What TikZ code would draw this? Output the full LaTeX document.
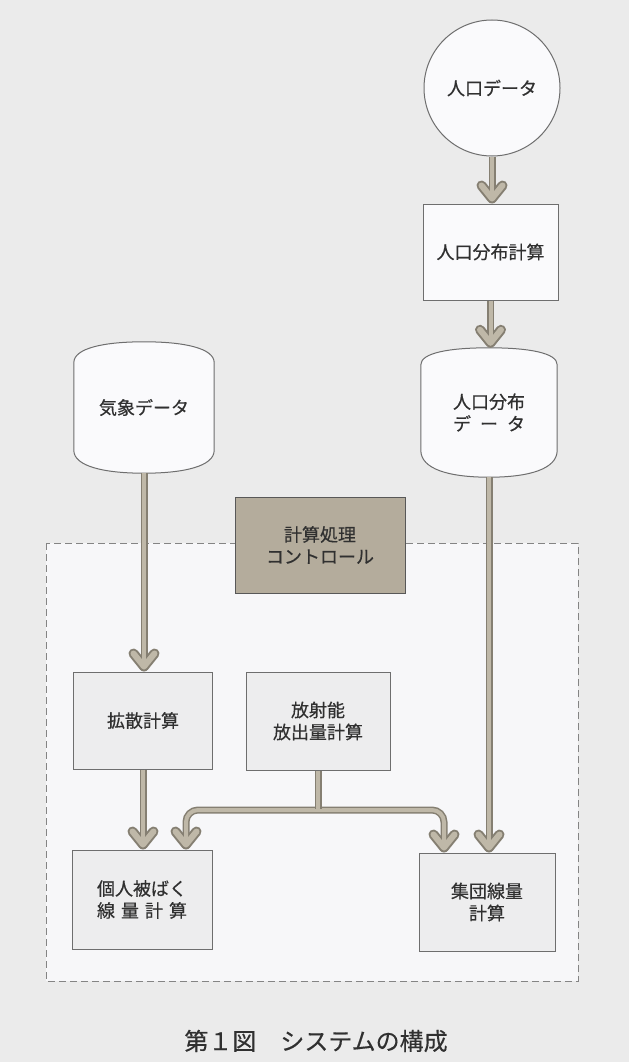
\documentclass[tikz,border=0pt]{standalone}
\usepackage{fontspec}
\setmainfont[FakeBold=0.5]{Noto Sans CJK JP}
\newfontfamily\capfont[FakeBold=0.3]{Noto Sans CJK JP}
\usetikzlibrary{arrows.meta,calc,backgrounds}
\definecolor{bgc}{HTML}{EBEBEB}
\definecolor{innerc}{HTML}{F7F7F9}
\definecolor{boxfill}{HTML}{EDEDEE}
\definecolor{whitec}{HTML}{FAFAFC}
\definecolor{ctrlfill}{HTML}{B4AC9C}
\definecolor{linec}{HTML}{6E6E6E}
\definecolor{flowD}{HTML}{857F72}
\definecolor{flowL}{HTML}{BFB8A8}
\definecolor{txtc}{HTML}{303030}
\tikzset{
  tipD/.tip={Straight Barb[length=13pt,width=21pt,line width=10pt,round]},
  tipL/.tip={Straight Barb[length=13pt,width=21pt,line width=6pt,round,sep=2pt]},
  flow/.style={draw=flowL, line width=4pt, -tipL, preaction={draw=flowD, line width=7pt, -tipD}},
  flowtwo/.style={draw=flowL, line width=4pt, tipL-tipL, preaction={draw=flowD, line width=7pt, tipD-tipD}},
  pipe/.style={draw=flowL, line width=4pt, preaction={draw=flowD, line width=7pt}},
  jp/.style={text=txtc, font=\fontsize{18}{22}\selectfont, align=center, inner sep=0pt},
  boxn/.style={jp, draw=linec, line width=1pt, fill=boxfill},
  topbox/.style={jp, draw=linec, line width=1pt, fill=whitec},
  barreltxt/.style={jp, draw=none},
  shapeline/.style={draw=linec, line width=1pt, fill=whitec}
}
\newcommand\barrelpath[3]{%
  \filldraw[shapeline]
  ([yshift=-#2]#1.north west) .. controls ([yshift=-#2*0.3]#1.north west) and ([xshift=-40pt]#1.north) .. (#1.north)
  .. controls ([xshift=40pt]#1.north) and ([yshift=-#2*0.3]#1.north east) .. ([yshift=-#2]#1.north east)
  -- ([yshift=#3]#1.south east) .. controls ([yshift=#3*0.3]#1.south east) and ([xshift=40pt]#1.south) .. (#1.south)
  .. controls ([xshift=-40pt]#1.south) and ([yshift=#3*0.3]#1.south west) .. ([yshift=#3]#1.south west) -- cycle;}
\begin{document}
\begin{tikzpicture}[x=1pt,y=-1pt]
\useasboundingbox (0,0) rectangle (629,1062);
% nodes
\node[circle, topbox, minimum size=136pt] (pop) at (492,88) {人口データ};
\node[topbox, minimum width=135pt, minimum height=96pt] (pc) at (490.5,252) {人口分布計算};
\node[barreltxt, minimum width=136pt, minimum height=129pt] (pd) at (489,412.5) {人口分布\\\makebox[4em]{デ\hfill ー\hfill タ}};
\node[barreltxt, minimum width=140pt, minimum height=131pt] (wd) at (144,407.5) {気象データ};
\node[jp, draw=linec!80!black, line width=1pt, fill=ctrlfill, minimum width=170pt, minimum height=96pt] (ctrl) at (320,545) {計算処理\\コントロール};
\node[boxn, minimum width=139pt, minimum height=97pt] (df) at (143,720.5) {拡散計算};
\node[boxn, minimum width=144pt, minimum height=98pt] (rel) at (318,721) {放射能\\放出量計算};
\node[boxn, minimum width=140pt, minimum height=99pt] (ind) at (142,899.5) {個人被ばく\\\makebox[5em]{線\hfill 量\hfill 計\hfill 算}};
\node[boxn, minimum width=136pt, minimum height=98pt] (co) at (487,902) {集団線量\\計算};
\node[text=txtc, font=\capfont\fontsize{24}{28}\selectfont, inner sep=0pt] (cap) at (316,1041) {第１図　システムの構成};
% background layer
\begin{scope}[on background layer]
\fill[bgc] (0,0) rectangle (629,1062);
\filldraw[fill=innerc, draw=linec!85, line width=0.9pt, dash pattern=on 7pt off 4pt] (46,543) rectangle (578,981);
\barrelpath{pd}{17pt}{27pt}
\barrelpath{wd}{21pt}{23pt}
\end{scope}
% connectors
\draw[flow] (pop.south) -- (pop.south |- pc.north);
\draw[flow] (pc.south) -- (pc.south |- pd.north);
\draw[flow] (wd.south) -- (wd.south |- df.north);
\draw[flow] (df.south) -- (df.south |- ind.north);
\coordinate (bj) at (rel.south |- 0,810);
\coordinate (bl) at ([xshift=44pt]ind.north);
\coordinate (br) at ([xshift=-43pt]co.north);
\draw[flowtwo, rounded corners=12pt] (bl) |- (bj) -| (br);
\draw[pipe] (rel.south) -- ([yshift=1.5pt]bj);
\draw[flow] (pd.south) -- (pd.south |- co.north);
\end{tikzpicture}
\end{document}
